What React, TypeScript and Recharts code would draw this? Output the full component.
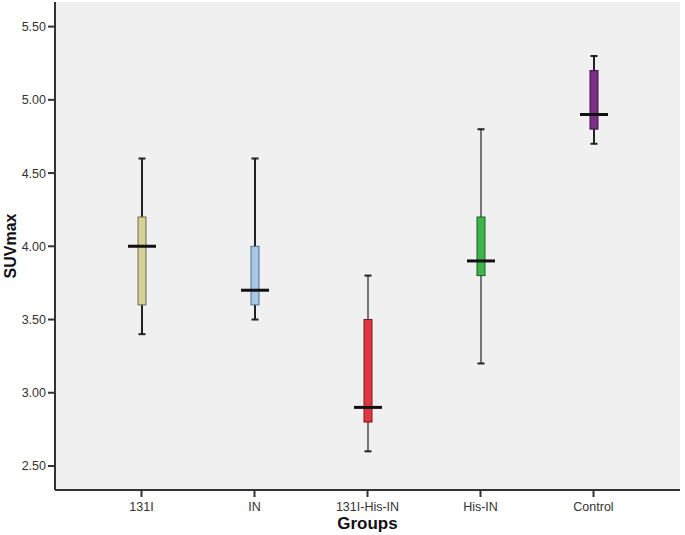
import { ComposedChart, Bar, XAxis, YAxis, CartesianGrid } from "recharts";

const groups = ["131I", "IN", "131I-His-IN", "His-IN", "Control"];
const mins = [3.4, 3.5, 2.6, 3.2, 4.7];
const q1s = [3.6, 3.6, 2.8, 3.8, 4.8];
const medians = [4.0, 3.7, 2.9, 3.9, 4.9];
const q3s = [4.2, 4.0, 3.5, 4.2, 5.2];
const maxs = [4.6, 4.6, 3.8, 4.8, 5.3];
const fills = ["#d5cf98", "#a8c8e8", "#e0383e", "#3db54b", "#7a2e84"];
const edges = ["#6d6a45", "#4f6f8f", "#7a1a1e", "#1f5e26", "#3f1446"];
const whiskerWidths = [2, 2, 1.2, 1.2, 2];
const yTicks = [2.5, 3.0, 3.5, 4.0, 4.5, 5.0, 5.5];

const rows = groups.map((g, i) => ({
  group: g,
  min: mins[i],
  q1: q1s[i],
  median: medians[i],
  q3: q3s[i],
  max: maxs[i],
  range: [mins[i], maxs[i]],
  fill: fills[i],
  edge: edges[i],
  sw: whiskerWidths[i],
}));

const font = "Arial, 'Liberation Sans', sans-serif";

function BoxShape(props: any) {
  const { x, y, width, height, payload } = props;
  if (payload == null || height == null) return null;
  const cx = x + width / 2;
  const span = payload.max - payload.min;
  const toY = (v: number) => y + ((payload.max - v) / span) * height;
  const boxW = 8;
  const capW = 7;
  return (
    <g>
      <line x1={cx} x2={cx} y1={toY(payload.max)} y2={toY(payload.min)} stroke="#222" strokeWidth={payload.sw} />
      <line x1={cx - capW / 2} x2={cx + capW / 2} y1={toY(payload.max)} y2={toY(payload.max)} stroke="#222" strokeWidth={2} />
      <line x1={cx - capW / 2} x2={cx + capW / 2} y1={toY(payload.min)} y2={toY(payload.min)} stroke="#222" strokeWidth={2} />
      <rect
        x={cx - boxW / 2}
        y={toY(payload.q3)}
        width={boxW}
        height={toY(payload.q1) - toY(payload.q3)}
        fill={payload.fill}
        stroke={payload.edge}
        strokeWidth={1}
      />
      <line x1={cx - 14} x2={cx + 14} y1={toY(payload.median)} y2={toY(payload.median)} stroke="#111" strokeWidth={3} />
    </g>
  );
}

export default function App() {
  return (
    <div style={{ position: "absolute", left: 0, top: 0, background: "#fff" }}>
      <ComposedChart
        width={685}
        height={535}
        data={rows}
        margin={{ top: 2, right: 5, bottom: 0, left: 0 }}
      >
        <CartesianGrid fill="#f0f0f0" horizontal={false} vertical={false} />
        <XAxis
          dataKey="group"
          height={45}
          padding={{ left: 30, right: 30 }}
          axisLine={{ stroke: "#333", strokeWidth: 2 }}
          tickLine={{ stroke: "#333", strokeWidth: 2 }}
          tickSize={7}
          tickMargin={5}
          tick={{ fill: "#333", fontSize: 12.5, fontFamily: font }}
          label={{
            value: "Groups",
            position: "insideBottom",
            offset: 6,
            style: { fill: "#111", fontSize: 17, fontWeight: 700, fontFamily: font },
          }}
        />
        <XAxis xAxisId="top" orientation="top" dataKey="group" height={0} tick={false} tickLine={false} axisLine={{ stroke: "#333", strokeWidth: 2 }} />
        <YAxis
          width={55}
          type="number"
          domain={[2.336, 5.668]}
          ticks={yTicks}
          allowDataOverflow
          tickFormatter={(v: number) => v.toFixed(2)}
          axisLine={{ stroke: "#333", strokeWidth: 2 }}
          tickLine={{ stroke: "#333", strokeWidth: 2 }}
          tickSize={7}
          tickMargin={2}
          tick={{ fill: "#333", fontSize: 12.5, fontFamily: font }}
          label={{
            value: "SUVmax",
            angle: -90,
            position: "insideLeft",
            offset: 0,
            dx: 10,
            style: { fill: "#111", fontSize: 16, fontWeight: 700, fontFamily: font, textAnchor: "middle" },
          }}
        />
        <YAxis yAxisId="right" orientation="right" width={0} domain={[2.336, 5.668]} tick={false} tickLine={false} axisLine={{ stroke: "#555", strokeWidth: 2 }} />
        <Bar dataKey="range" barSize={28} shape={<BoxShape />} isAnimationActive={false} />
      </ComposedChart>
    </div>
  );
}
